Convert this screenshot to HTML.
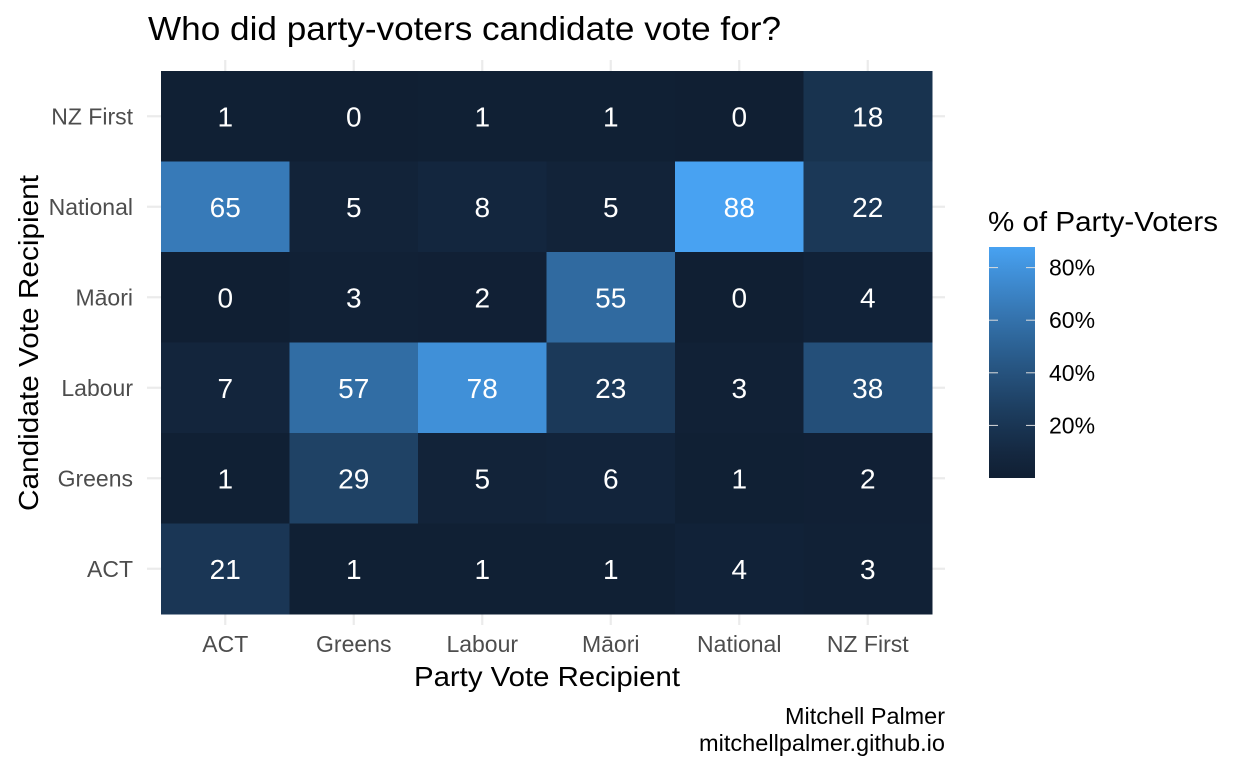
<!DOCTYPE html>
<html><head><meta charset="utf-8"><style>
body{margin:0;background:#fff}
svg text{font-family:"Liberation Sans",Arial,sans-serif}
</style></head><body>
<svg id="s" width="1248" height="768" xmlns="http://www.w3.org/2000/svg">
<defs><linearGradient id="g" x1="0" y1="1" x2="0" y2="0"></linearGradient></defs>
<text x="148" y="40" font-size="33" textLength="633" lengthAdjust="spacingAndGlyphs" fill="#000">Who did party-voters candidate vote for?</text>
<g id="grid"></g>
<g id="tiles"></g>
<text x="547" y="686" font-size="28" text-anchor="middle" textLength="266" lengthAdjust="spacingAndGlyphs">Party Vote Recipient</text>
<text transform="translate(38,343) rotate(-90)" font-size="28" text-anchor="middle" textLength="336" lengthAdjust="spacingAndGlyphs">Candidate Vote Recipient</text>
<text x="988" y="231" font-size="28" textLength="230" lengthAdjust="spacingAndGlyphs">% of Party-Voters</text>
<rect x="989" y="247" width="46" height="231" fill="url(#g)"/>
<g id="leg"></g>
<text x="945" y="724" font-size="23" text-anchor="end" textLength="160" lengthAdjust="spacingAndGlyphs">Mitchell Palmer</text>
<text x="945" y="751" font-size="23" text-anchor="end" textLength="246" lengthAdjust="spacingAndGlyphs">mitchellpalmer.github.io</text>
</svg>
<script>
var NS="http://www.w3.org/2000/svg";
function el(t,a,p,txt){var e=document.createElementNS(NS,t);for(var k in a)e.setAttribute(k,a[k]);if(txt!==undefined)e.textContent=txt;p.appendChild(e);return e;}
function col(v){var t=Math.pow(v/88,1.2);var lo=[16,31,51],hi=[72,162,242];return "rgb("+lo.map(function(l,i){return Math.round(l+(hi[i]-l)*t)}).join(",")+")";}
var cols=["ACT","Greens","Labour","Māori","National","NZ First"];
var rows=["NZ First","National","Māori","Labour","Greens","ACT"];
var data=[[1,0,1,1,0,18],[65,5,8,5,88,22],[0,3,2,55,0,4],[7,57,78,23,3,38],[1,29,5,6,1,2],[21,1,1,1,4,3]];
var L=161,T=71,W=128.5,H=90.5;
var grid=document.getElementById("grid"),tiles=document.getElementById("tiles");
for(var i=0;i<6;i++){
 var cx=L+W*(i+0.5),cy=T+H*(i+0.5);
 el("line",{x1:cx,x2:cx,y1:60,y2:625,stroke:"#ebebeb","stroke-width":2.2},grid);
 el("line",{x1:147,x2:945,y1:cy,y2:cy,stroke:"#ebebeb","stroke-width":2.2},grid);
 el("text",{x:cx,y:652,"font-size":23,fill:"#4d4d4d","text-anchor":"middle"},grid,cols[i]);
 el("text",{x:133,y:cy+8,"font-size":23,fill:"#4d4d4d","text-anchor":"end"},grid,rows[i]);
}
for(var r=0;r<6;r++)for(var c=0;c<6;c++){
 var v=data[r][c];
 el("rect",{x:L+W*c,y:T+H*r,width:W+0.5,height:H+0.5,fill:col(v)},tiles);
 el("text",{x:L+W*(c+0.5),y:T+H*(r+0.5)+10,"font-size":28,fill:"#fff","text-anchor":"middle"},tiles,String(v));
}
var g=document.getElementById("g");
for(var k=0;k<=10;k++)el("stop",{offset:k/10,"stop-color":col(88*k/10)},g);
var leg=document.getElementById("leg");
[20,40,60,80].forEach(function(p){var y=478-p*2.63;
 el("line",{x1:989,x2:998,y1:y,y2:y,stroke:"#ddd","stroke-width":1},leg);
 el("line",{x1:1026,x2:1035,y1:y,y2:y,stroke:"#ddd","stroke-width":1},leg);
 el("text",{x:1049,y:y+8,"font-size":23,fill:"#000"},leg,p+"%");});
</script>
</body></html>
